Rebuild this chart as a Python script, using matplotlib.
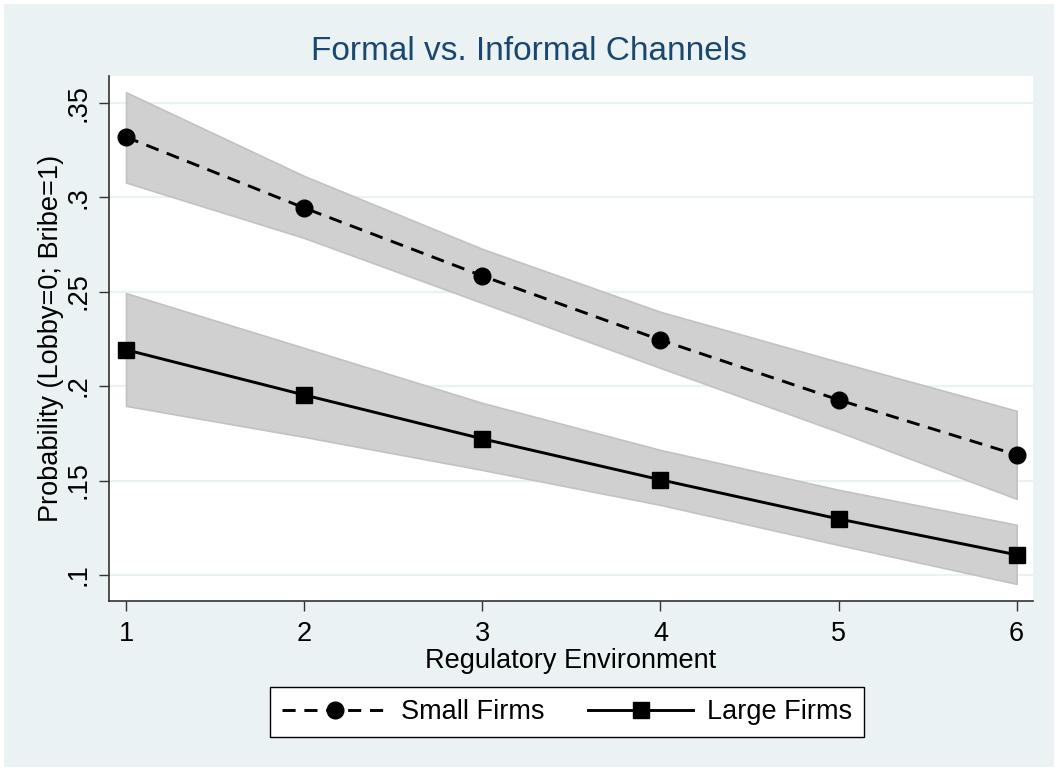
import matplotlib
matplotlib.use("Agg")
import matplotlib.pyplot as plt
from matplotlib.patches import Rectangle
from matplotlib.ticker import FixedLocator, FuncFormatter

# Regulatory environment levels
regulatory = [1, 2, 3, 4, 5, 6]

# Predicted probability (Lobby=0; Bribe=1) with confidence bounds
small_prob = [0.3318, 0.2943, 0.2583, 0.2244, 0.1927, 0.1636]
small_upper = [0.3555, 0.3112, 0.2726, 0.2393, 0.2128, 0.1869]
small_lower = [0.3077, 0.2784, 0.2440, 0.2096, 0.1758, 0.1403]

large_prob = [0.2192, 0.1953, 0.1721, 0.1504, 0.1297, 0.1107]
large_upper = [0.2492, 0.2202, 0.1911, 0.1662, 0.1451, 0.1266]
large_lower = [0.1895, 0.1731, 0.1556, 0.1371, 0.1159, 0.0953]

y_ticks = [0.10, 0.15, 0.20, 0.25, 0.30, 0.35]
x_ticks = [1, 2, 3, 4, 5, 6]

plt.rcParams["font.family"] = ["Liberation Sans", "DejaVu Sans"]

W, H = 1058, 771
fig = plt.figure(figsize=(W / 100, H / 100), dpi=100, facecolor="white")

# graph region background
fig.patches.append(Rectangle((4 / W, 4 / H), 1 - 8 / W, 1 - 8 / H,
                             transform=fig.transFigure, facecolor="#EAF2F3",
                             edgecolor="none", zorder=-10))

ax = fig.add_axes([109 / W, 1 - 600.7 / H, (1033 - 109) / W, (600.7 - 76) / H])
ax.set_zorder(1)
ax.set_facecolor("white")

band_fc = "#D0D0D0"
band_ec = "#C2C2C2"
ax.fill_between(regulatory, small_lower, small_upper, facecolor=band_fc,
                edgecolor=band_ec, linewidth=1.2, zorder=2)
ax.fill_between(regulatory, large_lower, large_upper, facecolor=band_fc,
                edgecolor=band_ec, linewidth=1.2, zorder=2)

ax.plot(regulatory, small_prob, color="black", linewidth=2.1,
        dashes=(4.5, 3.0), marker="o", markersize=12, markerfacecolor="black",
        markeredgecolor="black", label="Small Firms", zorder=4)
ax.plot(regulatory, large_prob, color="black", linewidth=2.1,
        marker="s", markersize=11.5, markerfacecolor="black",
        markeredgecolor="black", label="Large Firms", zorder=4)

ax.set_xlim(0.9045, 6.0917)
ax.set_ylim(0.0864, 0.3641)

ax.yaxis.set_major_locator(FixedLocator(y_ticks))
ax.xaxis.set_major_locator(FixedLocator(x_ticks))


def no_lead_zero(v, pos):
    s = ("%.2f" % v).rstrip("0").rstrip(".")
    return s[1:] if s.startswith("0") else s


ax.yaxis.set_major_formatter(FuncFormatter(no_lead_zero))
ax.grid(axis="y", color="#EAF2F3", linewidth=1.6, zorder=1)
ax.set_axisbelow(True)

for side in ("top", "right"):
    ax.spines[side].set_visible(False)
for side in ("left", "bottom"):
    ax.spines[side].set_color("#333333")
    ax.spines[side].set_linewidth(1.2)

ax.tick_params(axis="both", direction="out", length=7.5, width=1.0,
               color="#333333", labelsize=19.5, labelcolor="black")
ax.tick_params(axis="y", pad=5)
ax.tick_params(axis="x", pad=7)
for lab in ax.get_yticklabels():
    lab.set_rotation(90)
    lab.set_va("center")

ax.set_xlabel("Regulatory Environment", fontsize=19.5, labelpad=1)
ax.set_ylabel("Probability (Lobby=0; Bribe=1)", fontsize=19.5, labelpad=1)

fig.text(529 / W, 1 - 52 / H, "Formal vs. Informal Channels", fontsize=24,
         color="#1A476F", ha="center", va="center")

leg = ax.legend(loc="center", bbox_to_anchor=(567 / W, 1 - 712 / H),
                bbox_transform=fig.transFigure, ncol=2, fontsize=19.5,
                frameon=True, fancybox=False, framealpha=1,
                edgecolor="black", handlelength=3.9, handletextpad=0.5,
                columnspacing=1.6, borderpad=0.45, numpoints=1)
leg.get_frame().set_linewidth(1.0)

fig.savefig("out.png", dpi=100, facecolor="white")
